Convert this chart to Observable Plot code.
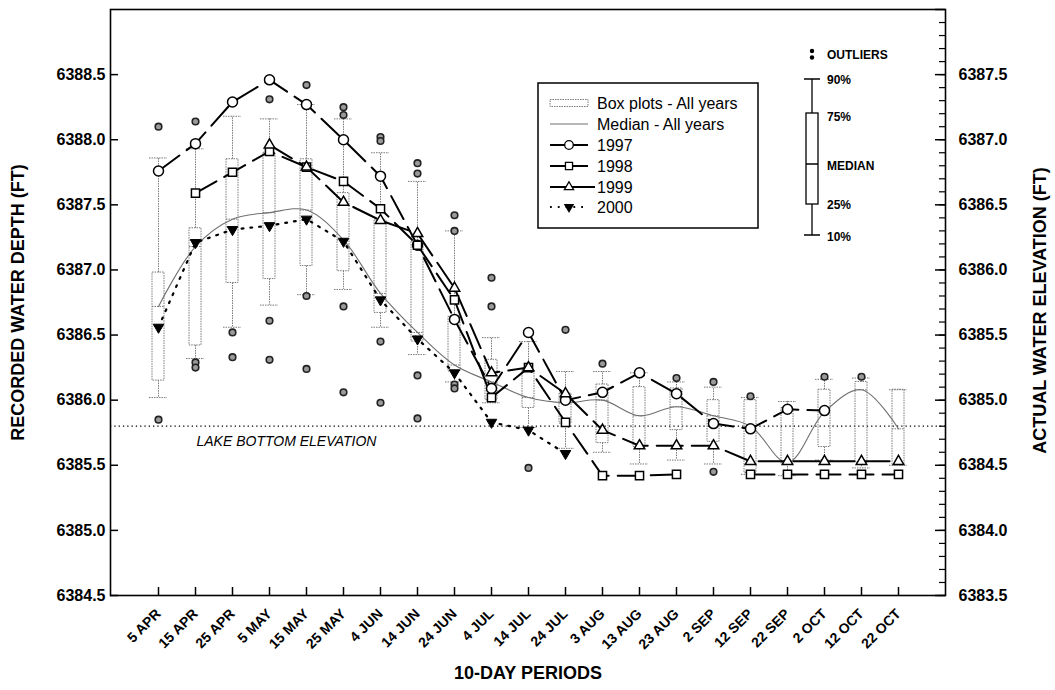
<!DOCTYPE html>
<html><head><meta charset="utf-8">
<script src="https://cdn.jsdelivr.net/npm/d3@7"></script>
<script src="https://cdn.jsdelivr.net/npm/@observablehq/plot@0.6"></script>
<style>body{margin:0;background:#fff} #chart{width:1055px;height:690px}</style>
</head><body><div id="chart"></div><script>
const FONT = "'Liberation Sans', Arial, Helvetica, sans-serif";

const periods = ["5 APR","15 APR","25 APR","5 MAY","15 MAY","25 MAY","4 JUN","14 JUN","24 JUN","4 JUL","14 JUL","24 JUL","3 AUG","13 AUG","23 AUG","2 SEP","12 SEP","22 SEP","2 OCT","12 OCT","22 OCT"];

// box plots - all years
const p90 = [6387.86,6387.93,6388.18,6388.16,6388.27,6388.16,6387.90,6387.68,6387.30,6386.48,6386.45,6386.22,6386.22,6386.21,6386.14,6386.10,6386.02,6385.99,6386.16,6386.17,6386.08];
const q3  = [6386.98,6387.32,6387.85,6387.90,6387.85,6387.59,6387.38,6387.22,6386.64,6386.31,6386.23,6386.05,6386.12,6386.10,6386.09,6386.00,6386.00,6385.94,6386.08,6386.14,6386.08];
const q1  = [6386.15,6386.42,6386.90,6386.93,6387.03,6386.99,6386.67,6386.45,6386.22,6386.00,6385.94,6385.82,6385.67,6385.64,6385.77,6385.68,6385.44,6385.51,6385.64,6385.52,6385.50];
const p10 = [6386.02,6386.32,6386.56,6386.73,6386.81,6386.85,6386.56,6386.35,6386.14,6385.98,6385.79,6385.63,6385.60,6385.51,6385.54,6385.51,6385.43,6385.42,6385.54,6385.48,6385.50];
// median - all years
const medianAll = [6386.72,6387.18,6387.39,6387.44,6387.46,6387.23,6386.82,6386.52,6386.27,6386.14,6386.02,6385.98,6386.00,6385.88,6385.95,6385.88,6385.80,6385.52,6385.91,6386.08,6385.78];

// outliers
const outlierPeriod = ["5 APR","5 APR","15 APR","15 APR","15 APR","25 APR","25 APR","5 MAY","5 MAY","5 MAY","15 MAY","15 MAY","15 MAY","25 MAY","25 MAY","25 MAY","25 MAY","4 JUN","4 JUN","4 JUN","4 JUN","14 JUN","14 JUN","14 JUN","14 JUN","24 JUN","24 JUN","24 JUN","24 JUN","4 JUL","4 JUL","14 JUL","24 JUL","3 AUG","23 AUG","2 SEP","2 SEP","12 SEP","2 OCT","12 OCT"];
const outlierValue = [6388.10,6385.85,6388.14,6386.29,6386.25,6386.52,6386.33,6388.31,6386.61,6386.31,6388.42,6386.80,6386.24,6388.25,6388.19,6386.72,6386.06,6388.02,6387.99,6386.45,6385.98,6387.82,6387.74,6386.19,6385.86,6387.42,6387.30,6386.12,6386.09,6386.94,6386.72,6385.48,6386.54,6386.28,6386.17,6386.14,6385.45,6386.03,6386.18,6386.18];

// yearly series
const y1997 = [6387.76,6387.97,6388.29,6388.46,6388.27,6388.00,6387.72,6387.19,6386.62,6386.09,6386.52,6386.00,6386.06,6386.21,6386.05,6385.82,6385.78,6385.93,6385.92,null,null];
const y1998 = [null,6387.59,6387.75,6387.91,6387.79,6387.68,6387.47,6387.19,6386.77,6386.02,6386.25,6385.83,6385.42,6385.42,6385.43,null,6385.43,6385.43,6385.43,6385.43,6385.43];
const y1999 = [null,null,null,6387.96,6387.79,6387.52,6387.38,6387.28,6386.86,6386.21,6386.25,6386.05,6385.77,6385.65,6385.65,6385.65,6385.53,6385.53,6385.53,6385.53,6385.53];
const y2000 = [6386.56,6387.21,6387.31,6387.34,6387.39,6387.22,6386.77,6386.47,6386.21,6385.83,6385.77,6385.59,null,null,null,null,null,null,null,null,null];

const lakeBottom = 6385.8;
const yTicks = [6384.5,6385.0,6385.5,6386.0,6386.5,6387.0,6387.5,6388.0,6388.5];
const yMinor = d3.range(45, 90).map(k => +(k / 10 + 6380).toFixed(1));
const rightOffset = 1.0;

const W = 1055, H = 690, ML = 110, MR = 110, MT = 9, MB = 95;
const FW = W - ML - MR, FH = H - MT - MB;

const table = (arr) => periods.map((p, i) => ({p, v: arr[i]}));
const outliers = outlierPeriod.map((p, i) => ({p, v: outlierValue[i]}));
const boxes = periods.map((p, i) => ({p, p90: p90[i], q3: q3[i], med: medianAll[i], q1: q1[i], p10: p10[i]}));

const GRAY = "#7a7a7a";
const boxStyle = {stroke: GRAY, strokeWidth: 1, strokeDasharray: "1.5,1"};

const chart = Plot.plot({
  width: W, height: H,
  marginLeft: ML, marginRight: MR, marginTop: MT, marginBottom: MB,
  style: {fontFamily: FONT, background: "white", color: "black", overflow: "visible"},
  x: {type: "band", domain: periods, paddingInner: 0.684, paddingOuter: 0.842, axis: null},
  y: {domain: [6384.5, 6389.0], axis: null},
  marks: [
    Plot.ruleY([lakeBottom], {y: d => d, stroke: "black", strokeWidth: 1.2, strokeDasharray: "1.3,3"}),
    Plot.text(["LAKE BOTTOM ELEVATION"], {x: () => "15 APR", y: () => lakeBottom, text: d => d, textAnchor: "start", dx: 1, dy: 15, fontSize: 14, fontStyle: "italic", fill: "black"}),
    // box plots
    Plot.ruleX(boxes, {x: "p", y1: "q3", y2: "p90", ...boxStyle}),
    Plot.ruleX(boxes, {x: "p", y1: "q1", y2: "p10", ...boxStyle}),
    Plot.tickY(boxes, {x: "p", y: "p90", insetLeft: -3, insetRight: -3, ...boxStyle}),
    Plot.tickY(boxes, {x: "p", y: "p10", insetLeft: -3, insetRight: -3, ...boxStyle}),
    Plot.barY(boxes, {x: "p", y1: "q1", y2: "q3", fill: "none", ...boxStyle}),
    Plot.tickY(boxes, {x: "p", y: "med", ...boxStyle}),
    // median line
    Plot.line(table(medianAll), {x: "p", y: "v", curve: "catmull-rom", stroke: "#707070", strokeWidth: 1.1}),
    // outliers
    Plot.dot(outliers, {x: "p", y: "v", r: 3.3, fill: "#9a9a9a", stroke: "#222", strokeWidth: 1.6}),
    // yearly lines
    Plot.line(table(y2000), {x: "p", y: "v", stroke: "black", strokeWidth: 2.2, strokeDasharray: "1.8,7"}),
    Plot.line(table(y1999), {x: "p", y: "v", stroke: "black", strokeWidth: 2, strokeDasharray: "26,9"}),
    Plot.line(table(y1998), {x: "p", y: "v", stroke: "black", strokeWidth: 2, strokeDasharray: "24,9"}),
    Plot.line(table(y1997), {x: "p", y: "v", stroke: "black", strokeWidth: 2, strokeDasharray: "26,9"}),
    // markers
    Plot.dot(table(y2000), {x: "p", y: "v", symbol: "triangle", rotate: 180, r: 3.9, fill: "black", stroke: "black", strokeWidth: 1}),
    Plot.dot(table(y1997), {x: "p", y: "v", symbol: "circle", r: 5, fill: "white", stroke: "black", strokeWidth: 1.5}),
    Plot.dot(table(y1998), {x: "p", y: "v", symbol: "square", r: 4.6, fill: "white", stroke: "black", strokeWidth: 1.5}),
    Plot.dot(table(y1999), {x: "p", y: "v", symbol: "triangle", r: 3.9, fill: "white", stroke: "black", strokeWidth: 1.5}),
    // frame and ticks
    Plot.frame({stroke: "black", strokeWidth: 1.6}),
    Plot.tickX(periods, {x: d => d, insetTop: FH - 8, stroke: "black", strokeWidth: 1.5}),
    Plot.tickY(yTicks, {y: d => d, insetRight: FW - 8, stroke: "black", strokeWidth: 1.5}),
    Plot.tickY(yTicks.concat([6389.0]), {y: d => d, insetLeft: FW - 10, stroke: "black", strokeWidth: 1.5}),
    Plot.tickY(yMinor, {y: d => d, insetLeft: FW - 6, stroke: "black", strokeWidth: 1.2}),
    // axes
    Plot.axisY({anchor: "left", ticks: yTicks, tickSize: 0, tickPadding: 5, tickFormat: d => d.toFixed(1), fontSize: 16, fontWeight: "bold", label: null}),
    Plot.axisY({anchor: "right", ticks: yTicks, tickSize: 0, tickPadding: 13, tickFormat: d => (d - rightOffset).toFixed(1), fontSize: 16, fontWeight: "bold", label: null}),
    Plot.axisX({ticks: periods, tickSize: 0, tickPadding: 16, tickRotate: -45, fontSize: 14, fontWeight: "bold", label: null}),
    // axis titles
    Plot.text(["RECORDED WATER DEPTH (FT)"], {frameAnchor: "left", textAnchor: "middle", text: d => d, rotate: -90, dx: -92, fontSize: 18, fontWeight: "bold", fill: "black"}),
    Plot.text(["ACTUAL WATER ELEVATION (FT)"], {frameAnchor: "right", textAnchor: "middle", text: d => d, rotate: -90, dx: 95, dy: 8, fontSize: 18, fontWeight: "bold", fill: "black"}),
    Plot.text(["10-DAY PERIODS"], {frameAnchor: "bottom", textAnchor: "middle", text: d => d, dy: 83, fontSize: 18, fontWeight: "bold", fill: "black"})
  ]
});

// ---- legend (box) ----
const svg = d3.select(chart);
const lg = svg.append("g").attr("font-family", FONT).attr("font-size", 16).attr("text-anchor", "start");
lg.append("rect").attr("x", 538).attr("y", 83).attr("width", 220).attr("height", 145)
  .attr("fill", "white").attr("stroke", "black").attr("stroke-width", 1.5);
const legendRows = [
  {label: "Box plots - All years", kind: "box"},
  {label: "Median - All years", kind: "median"},
  {label: "1997", kind: "circle"},
  {label: "1998", kind: "square"},
  {label: "1999", kind: "triangle"},
  {label: "2000", kind: "down"}
];
const rowY = [103, 124, 145, 166, 187, 207];
legendRows.forEach((r, i) => {
  const y = rowY[i], x0 = 550, x1 = 588, cx = 569;
  if (r.kind === "box") {
    lg.append("rect").attr("x", x0).attr("y", y - 3.5).attr("width", x1 - x0).attr("height", 7)
      .attr("fill", "none").attr("stroke", GRAY).attr("stroke-dasharray", "1.5,1");
  } else if (r.kind === "median") {
    lg.append("line").attr("x1", x0).attr("x2", x1).attr("y1", y).attr("y2", y).attr("stroke", "#707070").attr("stroke-width", 1.1);
  } else if (r.kind === "down") {
    lg.append("line").attr("x1", x0).attr("x2", x1).attr("y1", y).attr("y2", y).attr("stroke", "black").attr("stroke-width", 2.2).attr("stroke-dasharray", "1.8,6");
    lg.append("path").attr("d", d3.symbol(d3.symbolTriangle, Math.PI * 3.9 * 3.9)()).attr("transform", `translate(${cx},${y}) rotate(180)`).attr("fill", "black");
  } else {
    const xe = r.kind === "triangle" ? 595 : x1;
    lg.append("line").attr("x1", x0).attr("x2", xe).attr("y1", y).attr("y2", y).attr("stroke", "black").attr("stroke-width", 2);
    const sym = r.kind === "circle" ? d3.symbolCircle : r.kind === "square" ? d3.symbolSquare : d3.symbolTriangle;
    const rr = r.kind === "circle" ? 4.3 : r.kind === "square" ? 4 : 3.4;
    lg.append("path").attr("d", d3.symbol(sym, Math.PI * rr * rr)()).attr("transform", `translate(${cx},${y})`)
      .attr("fill", "white").attr("stroke", "black").attr("stroke-width", 1.3);
  }
  lg.append("text").attr("x", 597).attr("y", y).attr("dy", "0.35em").attr("fill", "black").text(r.label);
});

// ---- box plot key ----
const key = svg.append("g").attr("font-family", FONT).attr("font-size", 12).attr("font-weight", "bold").attr("text-anchor", "start");
const kx = 812;
key.append("circle").attr("cx", kx).attr("cy", 51).attr("r", 2.2).attr("fill", "black");
key.append("circle").attr("cx", kx).attr("cy", 57.5).attr("r", 2.2).attr("fill", "black");
key.append("line").attr("x1", kx).attr("x2", kx).attr("y1", 79).attr("y2", 113).attr("stroke", "black").attr("stroke-width", 1.3);
key.append("line").attr("x1", kx).attr("x2", kx).attr("y1", 204).attr("y2", 235).attr("stroke", "black").attr("stroke-width", 1.3);
key.append("line").attr("x1", kx - 8).attr("x2", kx + 8).attr("y1", 79).attr("y2", 79).attr("stroke", "black").attr("stroke-width", 1.5);
key.append("line").attr("x1", kx - 8).attr("x2", kx + 8).attr("y1", 235).attr("y2", 235).attr("stroke", "black").attr("stroke-width", 1.5);
key.append("rect").attr("x", kx - 6).attr("y", 113).attr("width", 12).attr("height", 91).attr("fill", "white").attr("stroke", "black").attr("stroke-width", 1.3);
key.append("line").attr("x1", kx - 6).attr("x2", kx + 6).attr("y1", 164).attr("y2", 164).attr("stroke", "black").attr("stroke-width", 1.5);
const keyLabels = [["OUTLIERS", 55], ["90%", 80], ["75%", 117], ["MEDIAN", 166], ["25%", 205], ["10%", 237]];
keyLabels.forEach(([t, y]) => key.append("text").attr("x", 827).attr("y", y).attr("dy", "0.35em").attr("fill", "black").text(t));

document.getElementById("chart").appendChild(chart);
</script></body></html>
